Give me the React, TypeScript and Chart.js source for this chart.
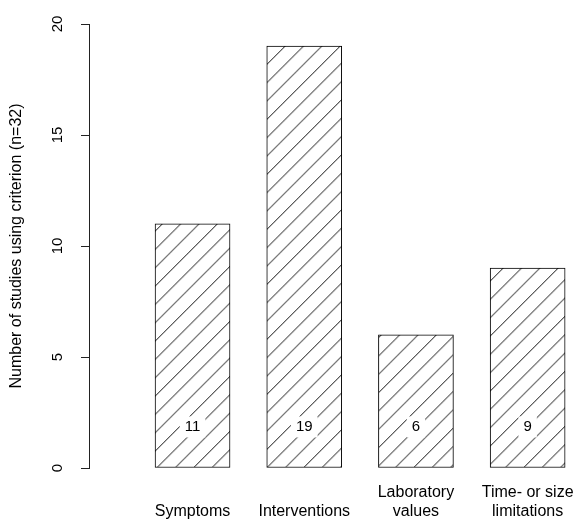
import { useEffect, useRef } from 'react';
import { Chart, registerables } from 'chart.js';

Chart.register(...registerables);

// Inclusion criteria and how many of the 32 studies used each one
const categories: string[][] = [
  ['Symptoms'],
  ['Interventions'],
  ['Laboratory', 'values'],
  ['Time- or size', 'limitations'],
];
const studyCounts: number[] = [11, 19, 6, 9];
const yTickValues: number[] = [0, 5, 10, 15, 20];
const yAxisTitle = 'Number of studies using criterion (n=32)';

const FONT = '"Liberation Sans", Arial, Helvetica, sans-serif';
const WIDTH = 576;
const HEIGHT = 520;

// Horizontal extent of the bar axis (bars sit at 1..4)
const X_MIN = 0.073;
const X_MAX = 4.433;
// Level on the count axis where the counts are printed inside the bars
const LABEL_LEVEL = 1.85;

// Diagonal hatching: three "/" lines per 55px tile
const HATCH_TILE = 55;
const HATCH_PHASE = 1.3;

function makeHatch(ctx: CanvasRenderingContext2D): CanvasPattern | string {
  const tile = document.createElement('canvas');
  tile.width = HATCH_TILE;
  tile.height = HATCH_TILE;
  const g = tile.getContext('2d');
  if (!g) return '#fff';
  g.fillStyle = '#fff';
  g.fillRect(0, 0, HATCH_TILE, HATCH_TILE);
  g.strokeStyle = '#111';
  g.lineWidth = 1;
  const step = HATCH_TILE / 3;
  for (let k = -1; k <= 7; k++) {
    const c = k * step;
    g.beginPath();
    g.moveTo(c + 10, -10);
    g.lineTo(c - HATCH_TILE - 10, HATCH_TILE + 10);
    g.stroke();
  }
  const pattern = ctx.createPattern(tile, 'repeat');
  if (!pattern) return '#fff';
  pattern.setTransform(new DOMMatrix().translate(HATCH_PHASE, 0));
  return pattern;
}

// Prints each count in a white box near the foot of its bar
const countLabels = {
  id: 'countLabels',
  afterDatasetsDraw(chart: Chart) {
    const { ctx } = chart;
    const meta = chart.getDatasetMeta(0);
    const y = chart.scales.y.getPixelForValue(LABEL_LEVEL);
    ctx.save();
    ctx.font = `15px ${FONT}`;
    ctx.textAlign = 'center';
    ctx.textBaseline = 'middle';
    meta.data.forEach((bar: any, i: number) => {
      const text = String(studyCounts[i]);
      const w = ctx.measureText(text).width + 10;
      const h = 21;
      ctx.fillStyle = '#fff';
      ctx.fillRect(bar.x - w / 2, y - h / 2, w, h);
      ctx.fillStyle = '#000';
      ctx.fillText(text, bar.x, y);
    });
    ctx.restore();
  },
};

function StudyCriteriaChart() {
  const canvasRef = useRef<HTMLCanvasElement | null>(null);

  useEffect(() => {
    const canvas = canvasRef.current;
    if (!canvas) return;
    const ctx = canvas.getContext('2d');
    if (!ctx) return;
    const hatch = makeHatch(ctx);

    const chart = new Chart(ctx, {
      type: 'bar',
      data: {
        datasets: [
          {
            data: categories.map((_, i) => ({ x: i + 1, y: studyCounts[i] })),
            backgroundColor: hatch as any,
            borderColor: '#000',
            borderWidth: 1,
            borderSkipped: false,
            barThickness: 75,
          },
        ],
      },
      options: {
        responsive: false,
        animation: false,
        devicePixelRatio: 1,
        layout: { padding: { top: 24, left: 0, right: 0, bottom: 0 } },
        plugins: {
          legend: { display: false },
          tooltip: { enabled: false },
        },
        scales: {
          x: {
            type: 'linear',
            offset: false,
            min: X_MIN,
            max: X_MAX,
            afterBuildTicks: (s: any) => {
              s.ticks = categories.map((_, i) => ({ value: i + 1 }));
            },
            ticks: {
              callback: (v: any) => categories[Math.round(Number(v)) - 1] ?? '',
              font: { family: FONT, size: 16, lineHeight: 1.15 },
              color: '#000',
              padding: 25,
              crossAlign: 'far',
              autoSkip: false,
              maxRotation: 0,
              minRotation: 0,
            },
            grid: { display: false, drawTicks: false, offset: false },
            border: { display: false },
            afterFit: (s: any) => {
              s.height = 52;
              s.paddingLeft = 0;
              s.paddingRight = 0;
            },
          },
          y: {
            type: 'linear',
            min: 0,
            max: 20,
            afterBuildTicks: (s: any) => {
              s.ticks = yTickValues.map((v) => ({ value: v }));
            },
            ticks: {
              minRotation: 90,
              maxRotation: 90,
              crossAlign: 'center',
              padding: 15,
              font: { family: FONT, size: 15 },
              color: '#000',
            },
            grid: {
              drawOnChartArea: false,
              drawTicks: true,
              tickLength: 8,
              color: '#222',
              lineWidth: 1,
            },
            border: { display: true, color: '#222', width: 1 },
            title: {
              display: true,
              text: yAxisTitle,
              font: { family: FONT, size: 16 },
              color: '#000',
              padding: { top: 7, bottom: 0 },
            },
            afterFit: (s: any) => {
              s.width = 89;
              s.paddingTop = 0;
              s.paddingBottom = 0;
            },
          },
        },
      },
      plugins: [countLabels],
    } as any);

    return () => chart.destroy();
  }, []);

  return <canvas ref={canvasRef} width={WIDTH} height={HEIGHT} style={{ width: WIDTH, height: HEIGHT, display: 'block' }} />;
}

export default function App() {
  return (
    <div style={{ position: 'fixed', left: 0, top: 0, width: WIDTH, height: HEIGHT, background: '#fff' }}>
      <StudyCriteriaChart />
    </div>
  );
}
